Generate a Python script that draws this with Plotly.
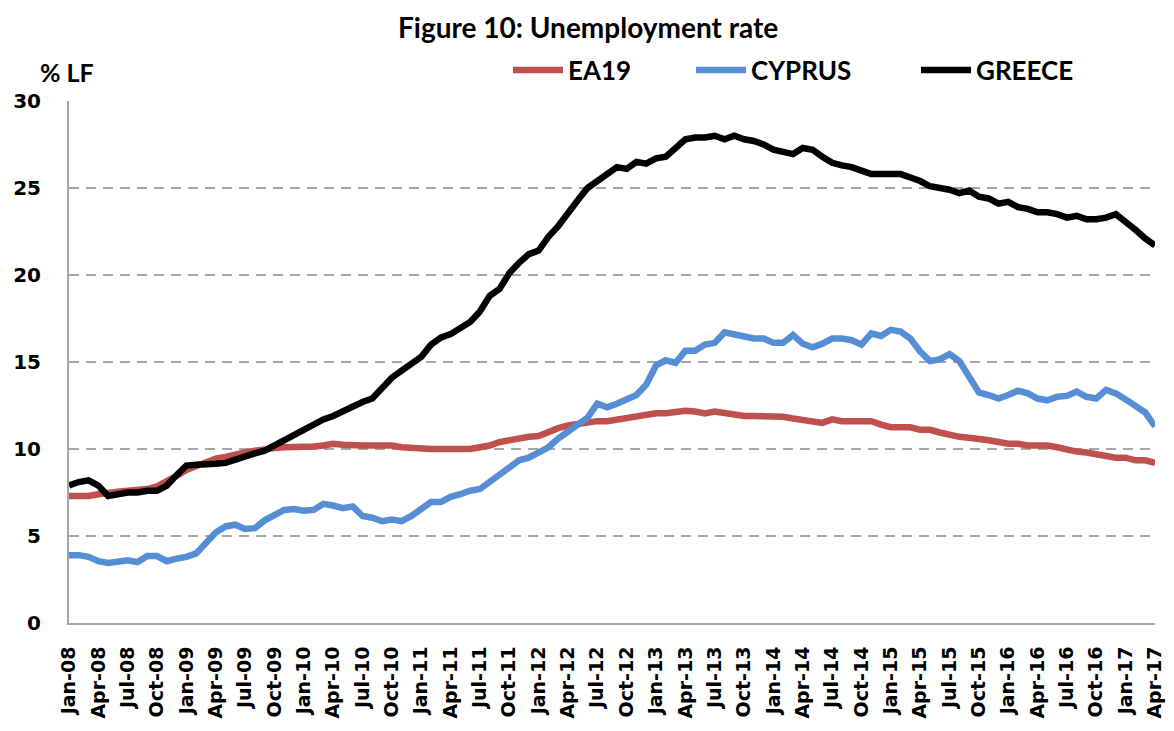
import plotly.graph_objects as go

months = ["Jan", "Feb", "Mar", "Apr", "May", "Jun", "Jul", "Aug", "Sep", "Oct", "Nov", "Dec"]
categories = [f"{months[m]}-{y:02d}" for y in range(8, 18) for m in range(12)][:112]

ea19 = [7.3, 7.3, 7.3, 7.4, 7.5, 7.55, 7.6, 7.65, 7.7, 7.85, 8.1, 8.45,
        8.8, 9.05, 9.3, 9.45, 9.55, 9.7, 9.8, 9.9, 10.0, 10.05, 10.1, 10.1,
        10.15, 10.15, 10.2, 10.3, 10.25, 10.2, 10.2, 10.2, 10.2, 10.2, 10.1, 10.05,
        10.0, 10.0, 10.0, 10.0, 10.0, 10.0, 10.1, 10.2, 10.4, 10.5, 10.65, 10.7,
        10.75, 11.0, 11.2, 11.35, 11.45, 11.55, 11.6, 11.6, 11.7, 11.8, 11.9, 11.95,
        12.05, 12.05, 12.15, 12.2, 12.15, 12.05, 12.15, 12.05, 12.0, 11.9, 11.9, 11.9,
        11.9, 11.85, 11.75, 11.65, 11.6, 11.5, 11.7, 11.6, 11.6, 11.6, 11.6, 11.4,
        11.25, 11.25, 11.25, 11.1, 11.1, 10.95, 10.8, 10.7, 10.65, 10.6, 10.5, 10.4,
        10.3, 10.3, 10.2, 10.2, 10.2, 10.1, 9.95, 9.85, 9.8, 9.7, 9.6, 9.5,
        9.5, 9.35, 9.35, 9.2]

cyprus = [3.9, 3.9, 3.8, 3.55, 3.45, 3.5, 3.6, 3.5, 3.85, 3.85, 3.55, 3.7,
          3.8, 4.0, 4.55, 5.2, 5.55, 5.65, 5.4, 5.45, 5.9, 6.2, 6.5, 6.55,
          6.45, 6.5, 6.85, 6.75, 6.6, 6.7, 6.15, 6.05, 5.85, 5.95, 5.85, 6.15,
          6.5, 6.95, 6.95, 7.25, 7.4, 7.6, 7.7, 8.1, 8.6, 9.0, 9.35, 9.5,
          9.85, 10.1, 10.6, 11.0, 11.5, 11.8, 12.6, 12.4, 12.6, 12.85, 13.1, 13.7,
          14.8, 15.1, 14.95, 15.65, 15.65, 16.0, 16.1, 16.7, 16.6, 16.45, 16.35, 16.35,
          16.1, 16.1, 16.55, 16.05, 15.85, 16.05, 16.35, 16.35, 16.25, 16.0, 16.65, 16.5,
          16.85, 16.75, 16.35, 15.6, 15.05, 15.15, 15.45, 15.05, 14.15, 13.25, 13.1, 12.9,
          13.1, 13.35, 13.2, 12.9, 12.8, 13.0, 13.05, 13.3, 13.0, 12.9, 13.4, 13.2,
          12.85, 12.5, 12.1, 11.3]

greece = [7.9, 8.1, 8.2, 7.9, 7.3, 7.4, 7.5, 7.5, 7.6, 7.6, 7.9, 8.5,
          9.05, 9.1, 9.1, 9.15, 9.2, 9.4, 9.6, 9.75, 9.9, 10.2, 10.5, 10.8,
          11.2, 11.5, 11.7, 11.9, 12.2, 12.5, 12.7, 12.9, 13.5, 14.1, 14.5, 14.9,
          15.3, 16.0, 16.4, 16.6, 17.0, 17.3, 17.9, 18.8, 19.2, 20.1, 20.7, 21.2,
          21.4, 22.2, 22.8, 23.6, 24.3, 25.0, 25.4, 25.8, 26.2, 26.1, 26.5, 26.4,
          26.7, 26.8, 27.3, 27.8, 27.9, 27.9, 28.0, 27.8, 28.0, 27.8, 27.7, 27.5,
          27.2, 27.1, 26.95, 27.3, 27.2, 26.8, 26.45, 26.3, 26.2, 26.0, 25.8, 25.8,
          25.8, 25.8, 25.6, 25.4, 25.1, 25.0, 24.9, 24.7, 24.85, 24.5, 24.4, 24.1,
          24.2, 23.9, 23.8, 23.6, 23.6, 23.5, 23.3, 23.4, 23.2, 23.2, 23.3, 23.5,
          23.1, 22.6, 22.1, 21.7]

series_names = ["EA19", "CYPRUS", "GREECE"]
series_colors = ["#C0504D", "#558ED5", "#000000"]
y_ticks = [0, 5, 10, 15, 20, 25, 30]

x_idx = list(range(len(categories)))
tick_idx = x_idx[::3]
tick_text = [categories[i] for i in tick_idx]

FONT = "Lato"
TICKFONT = "DejaVu Sans"

# page has an 8px body margin; plot area targeted at x 69..1155, y 101..623
W, H = 1166, 723
L, R, T, B = 61, 19, 93, 108
PW, PH = W - L - R, H - T - B

def px(xp):
    return (xp - 8 - L) / PW

def py(yp):
    return (H - B - (yp - 8)) / PH

legend_ids = ["legend", "legend2", "legend3"]
legend_text_x = [565, 748, 973]

fig = go.Figure()
for name, vals, col, lid in zip(series_names, [ea19, cyprus, greece], series_colors, legend_ids):
    fig.add_trace(go.Scatter(x=x_idx, y=vals, mode="lines", name=name, legend=lid,
                             line=dict(color=col, width=6.5)))

legend_common = dict(orientation="h", xanchor="left", yanchor="middle", y=py(70),
                     font=dict(size=26, family=FONT, weight="bold"),
                     bgcolor="rgba(0,0,0,0)", itemwidth=50)
layout_legends = {lid: dict(legend_common, x=px(tx - 57))
                  for lid, tx in zip(legend_ids, legend_text_x)}

fig.update_layout(
    width=W, height=H,
    margin=dict(l=L, r=R, t=T, b=B, autoexpand=False),
    paper_bgcolor="white", plot_bgcolor="white",
    font=dict(family=FONT, color="black"),
    showlegend=True,
    **layout_legends,
)
fig.add_annotation(text="<b>Figure 10: Unemployment rate</b>", xref="paper", yref="paper",
                   x=px(588), y=py(8), xanchor="center", yanchor="top",
                   showarrow=False, font=dict(size=28, family=FONT))
fig.add_annotation(text="<b>% LF</b>", xref="paper", yref="paper", x=px(38), y=py(72),
                   xanchor="left", yanchor="middle", showarrow=False,
                   font=dict(size=25, family=FONT))

fig.update_xaxes(range=[0, 111], tickmode="array", tickvals=tick_idx, ticktext=tick_text,
                 tickangle=-90, tickfont=dict(size=19, family=TICKFONT, weight="bold"),
                 showgrid=False, showline=True, linecolor="#A6A6A6", linewidth=2,
                 ticks="", zeroline=False, ticklabelstandoff=14, automargin=False)
fig.update_yaxes(range=[0, 30], tickmode="array", tickvals=y_ticks,
                 ticktext=[str(v) for v in y_ticks],
                 tickfont=dict(size=20, family=TICKFONT, weight="bold"),
                 showgrid=True, gridcolor="#A6A6A6", griddash="10px,7px", gridwidth=2,
                 showline=True, linecolor="#A6A6A6", linewidth=2,
                 ticks="", zeroline=False, ticklabelstandoff=22, automargin=False)

fig.write_html("out.html")
